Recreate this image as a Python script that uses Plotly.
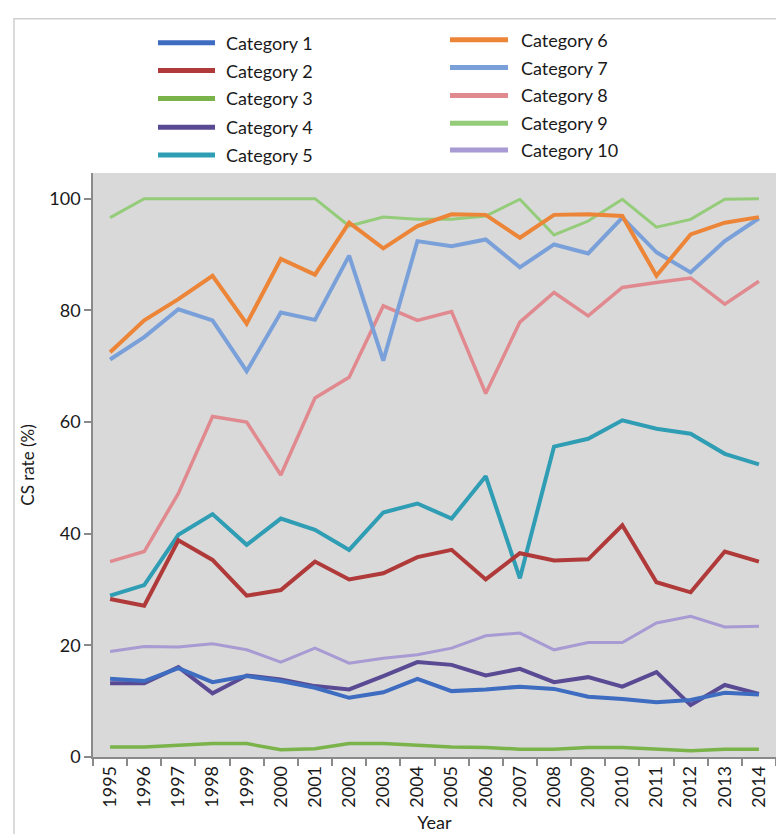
import plotly.graph_objects as go

years = [str(y) for y in range(1995, 2015)]
categories = ["Category 1", "Category 2", "Category 3", "Category 4", "Category 5",
              "Category 6", "Category 7", "Category 8", "Category 9", "Category 10"]

cat1 = [14.0, 13.6, 15.9, 13.4, 14.5, 13.6, 12.4, 10.6, 11.6, 14.0, 11.8, 12.1, 12.6, 12.2, 10.8, 10.4, 9.8, 10.2, 11.5, 11.2]
cat2 = [28.3, 27.1, 38.8, 35.3, 28.9, 29.9, 35.0, 31.8, 32.9, 35.8, 37.1, 31.8, 36.5, 35.2, 35.4, 41.5, 31.3, 29.5, 36.8, 35.0]
cat3 = [1.8, 1.8, 2.1, 2.4, 2.4, 1.3, 1.5, 2.4, 2.4, 2.1, 1.8, 1.7, 1.4, 1.4, 1.7, 1.7, 1.4, 1.1, 1.4, 1.4]
cat4 = [13.2, 13.2, 16.1, 11.4, 14.6, 13.9, 12.7, 12.1, 14.5, 17.0, 16.5, 14.6, 15.8, 13.4, 14.3, 12.6, 15.2, 9.3, 12.9, 11.3]
cat5 = [28.9, 30.8, 39.8, 43.5, 38.0, 42.7, 40.7, 37.1, 43.8, 45.4, 42.7, 50.3, 32.0, 55.6, 57.0, 60.3, 58.8, 57.9, 54.3, 52.4]
cat6 = [72.5, 78.2, 82.0, 86.2, 77.6, 89.2, 86.4, 95.7, 91.1, 95.1, 97.2, 97.1, 93.0, 97.1, 97.2, 96.9, 86.2, 93.6, 95.7, 96.7]
cat7 = [71.2, 75.2, 80.2, 78.2, 69.1, 79.6, 78.3, 89.8, 71.0, 92.4, 91.5, 92.7, 87.7, 91.8, 90.2, 96.6, 90.4, 86.8, 92.4, 96.5]
cat8 = [35.0, 36.8, 47.2, 61.0, 60.0, 50.5, 64.3, 68.0, 80.8, 78.2, 79.8, 65.1, 77.9, 83.2, 79.0, 84.1, 85.0, 85.8, 81.1, 85.2]
cat9 = [96.6, 100.0, 100.0, 100.0, 100.0, 100.0, 100.0, 95.1, 96.7, 96.3, 96.3, 96.9, 99.9, 93.5, 96.0, 99.9, 94.9, 96.3, 99.9, 100.0]
cat10 = [18.9, 19.8, 19.7, 20.3, 19.2, 17.0, 19.5, 16.8, 17.7, 18.3, 19.5, 21.7, 22.2, 19.2, 20.5, 20.5, 24.0, 25.2, 23.3, 23.4]

series = [cat1, cat2, cat3, cat4, cat5, cat6, cat7, cat8, cat9, cat10]
colors = ["#3d6cc0", "#b03a3a", "#7ab34a", "#5a4a94", "#2f9db4",
          "#ec8537", "#7aa0da", "#e08a90", "#94cc7a", "#a89ad2"]
widths = [4, 4, 3.5, 4, 4, 4, 4, 3.5, 3, 3]

W, H = 784, 834
L, R, T, B = 85, 16, 165, 82
PW, PH = W - L - R, H - T - B
FONT = "Lato, 'DejaVu Sans', sans-serif"


def px(x):
    return (x - L) / PW


def py(y):
    return (H - B - y) / PH


fig = go.Figure()
for i in range(len(series) - 1, -1, -1):
    fig.add_trace(go.Scatter(x=years, y=series[i], mode="lines", name=categories[i],
                             line=dict(color=colors[i], width=widths[i]),
                             showlegend=False))

shapes = []
annotations = []
shapes.append(dict(type="rect", xref="paper", yref="paper",
                   x0=px(6), x1=px(777), y0=py(840), y1=py(10),
                   line=dict(color="#cfcfcf", width=1.5), fillcolor="rgba(0,0,0,0)", layer="below"))

col_x = [(150, 207, 216), (442, 500, 511)]
rows_y = [[34, 62, 90, 119, 147], [31, 59, 87, 115, 142]]
for i, name in enumerate(categories):
    c = i // 5
    r = i % 5
    x0, x1, tx = col_x[c]
    y = rows_y[c][r]
    shapes.append(dict(type="line", xref="paper", yref="paper",
                       x0=px(x0), x1=px(x1), y0=py(y), y1=py(y),
                       line=dict(color=colors[i], width=5)))
    annotations.append(dict(xref="paper", yref="paper", x=px(tx), y=py(y),
                            text=name, showarrow=False, xanchor="left", yanchor="middle",
                            font=dict(family=FONT, size=18, color="#1a1a1a")))

fig.update_layout(
    width=W, height=H,
    margin=dict(l=L, r=R, t=T, b=B, pad=0),
    paper_bgcolor="white",
    plot_bgcolor="#d9d9d9",
    showlegend=False,
    shapes=shapes,
    annotations=annotations,
    font=dict(family=FONT, size=17, color="#1a1a1a"),
)
fig.update_xaxes(type="category", range=[-0.5, 19.5], tickson="boundaries",
                 ticks="outside", ticklen=7, tickcolor="#8a8a8a", tickwidth=1.5,
                 showline=True, linecolor="#8a8a8a", linewidth=1.5,
                 showgrid=False, zeroline=False, tickangle=-90,
                 tickfont=dict(family=FONT, size=18, color="#1a1a1a"),
                 title=dict(text="Year", font=dict(family=FONT, size=18), standoff=10))
fig.update_yaxes(range=[0, 104.6], tickvals=[0, 20, 40, 60, 80, 100],
                 ticks="outside", ticklen=7, tickcolor="#8a8a8a", tickwidth=1.5,
                 showline=True, linecolor="#8a8a8a", linewidth=1.5,
                 showgrid=False, zeroline=False,
                 tickfont=dict(family=FONT, size=18, color="#1a1a1a"),
                 title=dict(text="CS rate (%)", font=dict(family=FONT, size=17), standoff=10))

fig.write_html("out.html")
